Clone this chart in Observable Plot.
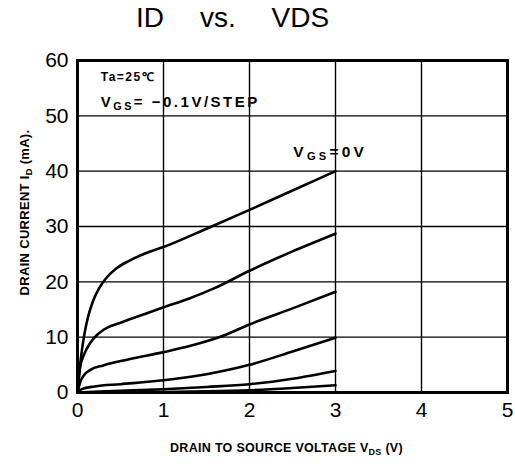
<!DOCTYPE html>
<html><head><meta charset="utf-8">
<script src="https://cdn.jsdelivr.net/npm/d3@7"></script>
<script src="https://cdn.jsdelivr.net/npm/@observablehq/plot@0.6"></script>
<style>
body{margin:0;background:#fff;}
#wrap{position:relative;width:515px;height:472px;}
#title{position:absolute;left:136px;top:4px;font:28px "Liberation Sans",sans-serif;white-space:pre;line-height:1;color:#000;word-spacing:-0.6px;}
</style></head><body>
<div id="wrap"><div id="title">ID     vs.     VDS</div></div>
<script>
// ---- data ----
const xTicks = [0, 1, 2, 3, 4, 5];
const yTicks = [0, 10, 20, 30, 40, 50, 60];
const seriesNames = ["0V", "-0.1V", "-0.2V", "-0.3V", "-0.4V", "-0.5V"];
const vds0   = [0, 0.02, 0.05, 0.08, 0.12, 0.18, 0.25, 0.33, 0.45, 0.6, 0.8, 1, 1.5, 2, 2.5, 3];
const id0    = [0, 3.5, 7.5, 10.5, 13.5, 16.5, 18.8, 20.6, 22.4, 23.8, 25.2, 26.3, 29.6, 33, 36.5, 40];
const vds1   = [0, 0.03, 0.08, 0.15, 0.22, 0.3, 0.5, 0.75, 1, 1.3, 1.6, 2, 2.5, 3];
const id1    = [0, 4.5, 7, 9, 10.3, 11.3, 12.6, 14, 15.4, 17, 18.9, 22, 25.5, 28.7];
const vds2   = [0, 0.03, 0.08, 0.15, 0.3, 0.6, 1, 1.4, 1.7, 2, 2.5, 3];
const id2    = [0, 1.8, 3.2, 4.1, 4.9, 6, 7.3, 8.8, 10.3, 12.3, 15.2, 18.2];
const vds3   = [0, 0.05, 0.2, 0.5, 1, 1.5, 2, 2.5, 3];
const id3    = [0, 0.6, 1.1, 1.5, 2.2, 3.3, 5, 7.4, 9.9];
const vds4   = [0, 0.5, 1, 1.5, 2, 2.5, 3];
const id4    = [0, 0.3, 0.6, 1, 1.5, 2.5, 3.9];
const vds5   = [0, 1, 1.5, 2, 2.5, 3];
const id5    = [0, 0.1, 0.2, 0.4, 0.8, 1.3];
const xLabel = "DRAIN TO SOURCE VOLTAGE V_{DS} (V)";
const yLabel = "DRAIN CURRENT I_{D} (mA).";
const noteTexts = ["Ta=25℃", "V_{GS}= −0.1V/STEP", "V_{GS}=0V"];
const noteX = [0.27, 0.27, 2.51];
const noteY = [57, 52.4, 43.4];
const noteSize = [12, 15, 15.5];
const noteSpacing = [1.5, 2.5, 3.2];

// ---- build table ----
const vdsAll = [vds0, vds1, vds2, vds3, vds4, vds5];
const idAll = [id0, id1, id2, id3, id4, id5];
const curves = [];
seriesNames.forEach((s, k) => vdsAll[k].forEach((v, i) => curves.push({s, v, i: idAll[k][i]})));
const notes = noteTexts.map((t, k) => ({t, x: noteX[k], y: noteY[k], fs: noteSize[k]}));

const plot = Plot.plot({
  width: 515, height: 472,
  marginTop: 60, marginBottom: 80, marginLeft: 77, marginRight: 8,
  style: {fontFamily: "Liberation Sans, sans-serif", background: "transparent", color: "#000"},
  x: {domain: [0, 5]},
  y: {domain: [0, 60]},
  marks: [
    Plot.gridX(xTicks.slice(1, -1), {stroke: "#000", strokeOpacity: 1, strokeWidth: 1.4}),
    Plot.gridY(yTicks.slice(1, -1), {stroke: "#000", strokeOpacity: 1, strokeWidth: 1.4}),
    Plot.axisX(xTicks, {tickSize: 0, tickPadding: 10, fontSize: 21, label: null}),
    Plot.axisY(yTicks, {tickSize: 0, tickPadding: 9, fontSize: 21, label: null}),
    Plot.line(curves, {x: "v", y: "i", z: "s", curve: "monotone-x", stroke: "#000", strokeWidth: 2.6}),
    Plot.frame({stroke: "#000", strokeWidth: 3}),
    Plot.text(notes, {x: "x", y: "y", text: "t", textAnchor: "start", fontSize: "fs", fontWeight: "bold"}),
    Plot.text([xLabel], {frameAnchor: "bottom", textAnchor: "middle", dx: -6, dy: 59, fontSize: 12.5, fontWeight: "bold"}),
    Plot.text([yLabel], {frameAnchor: "left", textAnchor: "middle", dx: -53, dy: -14, rotate: -90, fontSize: 13, fontWeight: "bold"})
  ]
});
document.getElementById("wrap").appendChild(plot);

// subscripts: turn "_{..}" into tspans
d3.select(plot).selectAll("text").each(function() {
  const el = d3.select(this);
  const txt = this.textContent;
  if (!txt.includes("_{")) return;
  const k = noteTexts.indexOf(txt);
  el.text(null);
  const parts = txt.split(/(_\{[^}]*\})/);
  parts.forEach((p, j) => {
    if (!p) return;
    if (p.startsWith("_{")) {
      el.append("tspan").attr("font-size", "0.72em").attr("dy", "3").text(p.slice(2, -1));
    } else {
      const t = el.append("tspan").text(p);
      if (j > 0 && parts[j - 1] && parts[j - 1].startsWith("_{")) t.attr("dy", "-3");
    }
  });
  el.attr("letter-spacing", k >= 0 ? noteSpacing[k] : 0.3);
});
d3.select(plot).selectAll("text").filter(function(){ return this.textContent === noteTexts[0]; }).attr("letter-spacing", noteSpacing[0]);
</script>
</body></html>
